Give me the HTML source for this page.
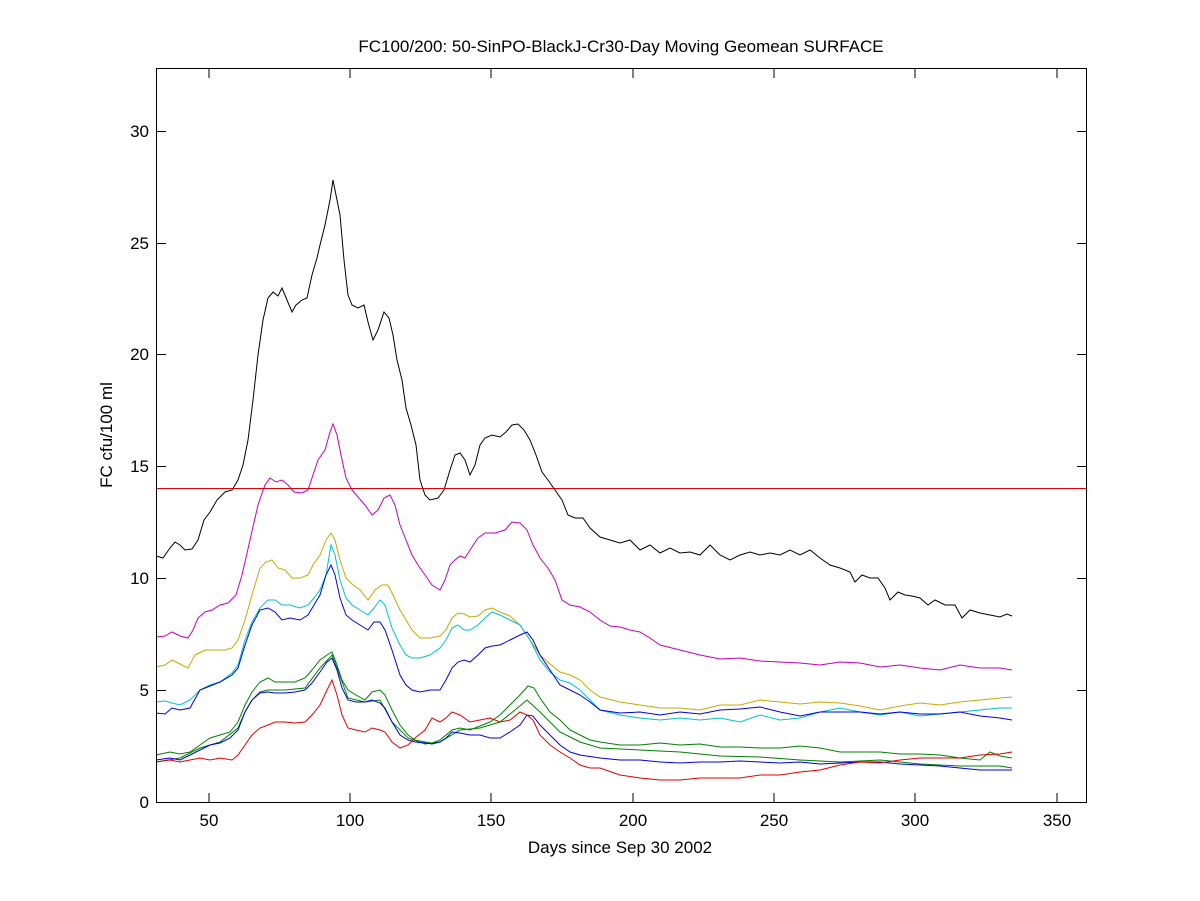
<!DOCTYPE html>
<html><head><meta charset="utf-8"><style>
body{margin:0;background:#fff;}
svg{display:block;font-family:"Liberation Sans",sans-serif;}
</style></head><body>
<svg width="1200" height="901" viewBox="0 0 1200 901" xmlns="http://www.w3.org/2000/svg">
<rect width="1200" height="901" fill="#fff"/>
<text x="621" y="52" font-size="17" text-anchor="middle">FC100/200: 50-SinPO-BlackJ-Cr30-Day Moving Geomean SURFACE</text>
<g fill="none" stroke-width="1">
<polyline stroke="#000" points="156,556 163,558 170,548 175,542 180,545 185,550 192,549 198,540 204,520 210,512 217,500 225,492 232,490 238,480 243,465 248,440 253,400 258,355 263,320 268,298 273,292 278,296 282,288 287,300 292,312 296,305 302,300 307,298 312,275 317,258 320,245 325,225 330,200 333,180 336,195 340,215 344,260 348,295 352,305 358,308 364,305 368,322 373,340 378,330 384,312 389,318 393,335 397,360 402,380 406,408 411,425 416,445 420,480 425,495 430,500 438,498 444,490 450,470 455,455 460,453 465,460 470,475 475,465 480,445 485,438 492,435 500,437 506,432 512,425 518,424 524,430 530,440 536,455 542,472 548,480 555,490 562,500 568,515 575,518 583,518 590,528 600,537 610,540 620,543 630,540 640,550 650,545 660,553 670,548 680,553 690,552 700,555 710,545 720,555 730,560 740,555 750,552 760,555 770,553 780,555 790,550 800,555 810,550 820,558 830,565 840,568 850,572 855,582 862,575 870,578 878,578 885,588 890,600 898,592 905,595 912,596 920,598 928,605 935,600 945,605 955,605 962,618 970,610 980,613 990,615 1000,617 1007,614 1012,616"/>
<polyline stroke="#c000c0" points="156,637 165,636 172,632 180,636 188,638 193,630 198,618 205,612 212,610 220,605 228,603 236,595 242,575 250,540 258,505 265,485 270,478 276,482 282,480 288,485 294,492 302,493 308,490 313,475 318,460 325,450 330,432 333,424 337,435 341,455 346,478 352,490 358,497 365,505 372,515 378,510 384,498 390,495 395,505 400,525 406,540 412,555 418,565 425,575 432,585 440,590 445,580 450,565 455,560 460,556 465,558 470,550 478,538 485,533 495,533 505,530 512,522 520,523 527,530 533,545 540,558 548,568 555,580 562,600 570,605 580,607 590,612 600,620 610,626 620,627 630,630 640,632 650,638 660,645 680,650 700,655 720,659 740,658 760,661 780,662 800,663 820,665 840,662 860,663 880,667 900,665 920,668 940,670 960,665 980,668 1000,668 1012,670"/>
<polyline stroke="#c8a800" points="156,667 165,665 172,660 180,664 188,668 195,655 205,650 215,650 225,650 232,648 238,640 245,620 252,595 260,568 266,562 272,560 278,568 285,570 292,578 300,578 308,575 313,565 320,555 326,540 331,533 335,540 340,560 346,578 352,584 360,590 368,600 375,590 382,585 388,585 393,595 400,610 406,620 412,630 420,638 430,638 440,636 446,630 452,618 458,613 464,614 470,617 478,616 485,610 492,608 500,612 510,616 520,625 530,640 540,655 550,664 560,672 570,675 580,680 590,690 600,697 620,702 640,705 660,708 680,708 700,710 720,705 740,705 760,700 780,702 800,704 820,702 840,703 860,706 880,710 900,706 920,703 940,705 960,702 980,700 1000,698 1012,697"/>
<polyline stroke="#00c0d0" points="156,702 165,701 172,703 180,705 190,700 200,690 210,685 220,682 232,673 238,665 245,640 252,622 260,608 268,600 275,600 282,605 290,605 300,608 308,605 314,598 320,590 326,575 331,545 335,555 340,580 346,598 352,605 360,610 368,615 374,608 380,600 385,605 392,628 400,645 406,655 412,658 420,658 430,655 440,648 446,640 452,628 458,625 464,630 470,630 478,625 485,618 492,612 500,615 510,620 520,625 530,640 540,660 550,672 560,680 570,683 580,690 590,700 600,710 620,715 640,718 660,720 680,718 700,720 720,718 740,722 760,715 780,720 800,718 820,712 840,708 860,712 880,715 900,712 920,716 940,714 960,712 980,710 1000,708 1012,708"/>
<polyline stroke="#0000e0" points="156,713 165,714 172,708 180,710 190,708 200,690 210,686 220,682 232,675 238,668 245,645 252,625 260,610 268,608 275,612 282,620 290,618 300,620 308,615 314,605 320,595 326,575 331,565 335,575 340,598 346,615 352,620 360,625 368,630 374,622 380,622 385,630 392,650 400,675 406,685 412,690 420,692 430,690 440,690 446,680 452,668 458,662 464,660 470,662 478,655 485,648 492,646 500,645 510,640 520,635 527,632 533,640 540,655 550,670 560,685 570,690 580,695 590,702 600,710 620,713 640,712 660,715 680,712 700,714 720,710 740,709 760,707 780,712 800,716 820,712 840,712 860,712 880,714 900,712 920,714 940,714 960,712 980,716 1000,718 1012,720"/>
<polyline stroke="#008000" points="156,755 170,752 180,754 190,752 200,745 210,738 220,735 230,732 238,722 245,705 252,692 260,682 268,678 275,682 285,682 295,682 305,678 312,670 320,660 327,655 332,652 337,665 342,680 348,690 356,695 365,700 372,692 380,690 385,695 392,710 400,725 408,735 415,740 425,742 432,743 440,740 446,735 452,730 460,728 470,730 480,726 490,722 500,715 510,705 520,695 528,686 534,688 540,698 550,712 560,720 570,730 580,735 590,740 600,742 620,745 640,745 660,743 680,745 700,744 720,747 740,747 760,748 780,748 800,746 820,748 840,752 860,752 880,752 900,754 920,754 940,755 960,758 980,760 990,752 1000,756 1012,758"/>
<polyline stroke="#008000" points="156,762 180,758 200,748 220,742 238,728 245,712 252,700 260,692 268,690 285,690 305,688 320,668 332,655 337,668 348,698 365,702 380,700 392,722 408,738 425,744 440,742 460,730 480,728 500,722 515,710 527,700 540,712 560,732 580,742 600,748 640,750 680,752 720,756 760,757 800,760 840,762 880,760 920,764 960,766 1000,766 1012,768"/>
<polyline stroke="#0000e0" points="156,760 170,758 180,760 190,755 200,750 210,745 220,743 230,738 238,730 245,712 252,700 260,693 268,692 275,693 285,693 295,692 305,690 312,683 320,672 327,662 332,658 337,670 342,688 348,700 356,702 365,702 372,700 380,703 385,708 392,722 400,735 408,740 415,742 425,743 432,744 440,742 446,738 452,732 460,733 470,735 480,735 490,738 500,738 510,732 520,725 527,715 533,716 540,725 550,735 560,745 570,752 580,755 600,758 620,760 640,760 660,762 680,763 700,762 720,762 740,761 760,762 780,763 800,762 820,764 840,763 860,762 880,762 900,764 920,765 940,766 960,768 980,770 1000,770 1012,770"/>
<polyline stroke="#e00000" points="156,762 170,760 180,762 190,760 200,758 210,760 220,758 232,760 238,755 245,745 252,735 260,728 268,725 275,722 285,722 295,723 305,722 312,715 320,705 327,690 332,680 337,695 342,715 348,728 356,730 365,732 372,728 380,730 385,732 392,742 400,748 408,745 415,738 425,730 432,718 440,722 446,718 452,712 460,715 470,722 480,720 490,718 500,722 510,720 520,712 527,715 533,720 540,735 550,745 560,752 570,758 580,765 590,768 600,768 620,775 640,778 660,780 680,780 700,778 720,778 740,778 760,775 780,775 800,772 820,770 840,765 860,762 880,763 900,760 920,758 940,758 960,758 980,755 1000,754 1012,752"/>
<line x1="156" y1="488.5" x2="1086" y2="488.5" stroke="#e00000"/>
</g>
<rect x="156.5" y="68.5" width="930" height="734" fill="none" stroke="#000"/>
<g stroke="#000">
<line x1="209" y1="802" x2="209" y2="793"/><line x1="209" y1="69" x2="209" y2="78"/>
<line x1="350" y1="802" x2="350" y2="793"/><line x1="350" y1="69" x2="350" y2="78"/>
<line x1="491" y1="802" x2="491" y2="793"/><line x1="491" y1="69" x2="491" y2="78"/>
<line x1="633" y1="802" x2="633" y2="793"/><line x1="633" y1="69" x2="633" y2="78"/>
<line x1="774" y1="802" x2="774" y2="793"/><line x1="774" y1="69" x2="774" y2="78"/>
<line x1="915" y1="802" x2="915" y2="793"/><line x1="915" y1="69" x2="915" y2="78"/>
<line x1="1057" y1="802" x2="1057" y2="793"/><line x1="1057" y1="69" x2="1057" y2="78"/>
<line x1="157" y1="690.5" x2="166" y2="690.5"/><line x1="1086" y1="690.5" x2="1077" y2="690.5"/>
<line x1="157" y1="578.5" x2="166" y2="578.5"/><line x1="1086" y1="578.5" x2="1077" y2="578.5"/>
<line x1="157" y1="466.5" x2="166" y2="466.5"/><line x1="1086" y1="466.5" x2="1077" y2="466.5"/>
<line x1="157" y1="354.5" x2="166" y2="354.5"/><line x1="1086" y1="354.5" x2="1077" y2="354.5"/>
<line x1="157" y1="243.5" x2="166" y2="243.5"/><line x1="1086" y1="243.5" x2="1077" y2="243.5"/>
<line x1="157" y1="131.5" x2="166" y2="131.5"/><line x1="1086" y1="131.5" x2="1077" y2="131.5"/>
</g>
<g font-size="17" text-anchor="middle">
<text x="209" y="826">50</text><text x="350" y="826">100</text><text x="491" y="826">150</text><text x="633" y="826">200</text><text x="774" y="826">250</text><text x="915" y="826">300</text><text x="1057" y="826">350</text>
</g>
<g font-size="17" text-anchor="end">
<text x="149" y="808">0</text><text x="149" y="696">5</text><text x="149" y="584">10</text><text x="149" y="472">15</text><text x="149" y="360">20</text><text x="149" y="249">25</text><text x="149" y="137">30</text>
</g>
<text x="620" y="853" font-size="17" text-anchor="middle">Days since Sep 30 2002</text>
<text transform="translate(112,435) rotate(-90)" font-size="17" text-anchor="middle">FC cfu/100 ml</text>
</svg>
</body></html>
